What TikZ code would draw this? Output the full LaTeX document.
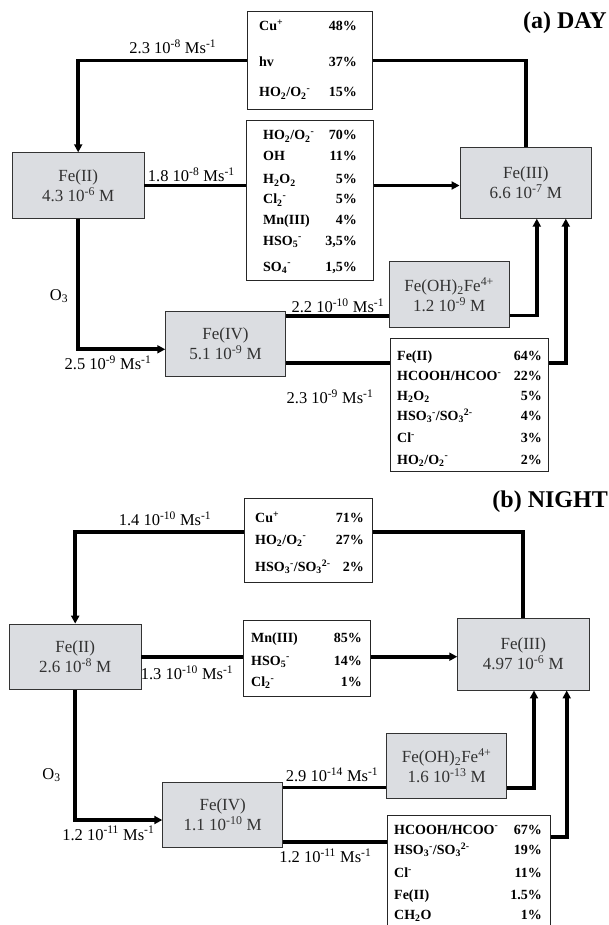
\documentclass[tikz,border=0pt]{standalone}
\usepackage{fontspec}
\setmainfont{Liberation Serif}
\usetikzlibrary{arrows.meta}
\definecolor{boxgray}{RGB}{219,221,225}
\definecolor{boxtext}{RGB}{50,50,50}
\newcommand{\supx}[1]{\textsuperscript{#1}}
\newcommand{\subx}[1]{\textsubscript{#1}}
\tikzset{
  species/.style={draw=black!80, line width=0.8pt, fill=boxgray, text=boxtext,
    font=\fontsize{17}{20}\selectfont, align=center, inner sep=0pt},
  tabbox/.style={draw=black!85, line width=0.8pt, fill=white, inner sep=0pt},
  rowtxt/.style={font=\bfseries\fontsize{14}{15}\selectfont, text height=10pt, text depth=2pt, inner sep=0pt},
  rate/.style={font=\fontsize{16.5}{18}\selectfont, inner sep=0pt},
  flow/.style={line width=3.8pt},
  flowarr/.style={flow, -{Triangle[length=8pt,width=8pt]}},
  paneltitle/.style={font=\bfseries\fontsize{24}{26}\selectfont, inner sep=0pt},
}
\newcommand{\spec}[7]{%
  \node[species, minimum width=#4pt, minimum height=#5pt] (#1) at (#2,#3) {#6\\#7};}
\newcommand{\tbox}[5]{%
  \node[tabbox, minimum width=#4pt, minimum height=#5pt] (#1) at (#2,#3) {};}
\newcommand{\tcols}[2]{\def\tlx{#1}\def\trx{#2}}
\newcommand{\trow}[5]{%
  \node[rowtxt, anchor=west] (#1-l#2) at (\tlx,#3) {#4};
  \node[rowtxt, anchor=east] (#1-p#2) at (\trx,#3) {#5};}

\begin{document}
\begin{tikzpicture}[x=1pt,y=-1pt]
  \useasboundingbox (0,0) rectangle (609,925);
  \clip (0,0) rectangle (609,925);

  % (a) day
  \spec{feIIa}{78.2}{185.5}{131.7}{65.6}{Fe(II)}{4.3 10\supx{-6} M}
  \spec{feIIIa}{525.8}{182.8}{131.7}{71}{Fe(III)}{6.6 10\supx{-7} M}
  \spec{feIVa}{225.5}{343.8}{119.7}{65.7}{Fe(IV)}{5.1 10\supx{-9} M}
  \spec{feoha}{449.2}{294.5}{120.3}{65.6}{Fe(OH)\subx{2}Fe\supx{4+}}{1.2 10\supx{-9} M}
  \tbox{topa}{310}{60.5}{125.4}{97.6}
  \tbox{mida}{309.7}{200.3}{127.3}{159.3}
  \tbox{hca}{469.5}{405}{157.6}{133.4}

  \tcols{259}{357}
  \trow{topa}{1}{27}{Cu\supx{+}}{48\%}
  \trow{topa}{2}{63}{hv}{37\%}
  \trow{topa}{3}{93}{HO\subx{2}/O\subx{2}\supx{-}}{15\%}
  \tcols{263}{357}
  \trow{mida}{1}{136}{HO\subx{2}/O\subx{2}\supx{-}}{70\%}
  \trow{mida}{2}{157}{OH}{11\%}
  \trow{mida}{3}{180}{H\subx{2}O\subx{2}}{5\%}
  \trow{mida}{4}{200}{Cl\subx{2}\supx{-}}{5\%}
  \trow{mida}{5}{221}{Mn(III)}{4\%}
  \trow{mida}{6}{241}{HSO\subx{5}\supx{-}}{3,5\%}
  \trow{mida}{7}{267}{SO\subx{4}\supx{-}}{1,5\%}
  \tcols{397}{542}
  \trow{hca}{1}{356}{Fe(II)}{64\%}
  \trow{hca}{2}{376.7}{HCOOH/HCOO\supx{-}}{22\%}
  \trow{hca}{3}{396.7}{H\subx{2}O\subx{2}}{5\%}
  \trow{hca}{4}{416.7}{HSO\subx{3}\supx{-}/SO\subx{3}\supx{2-}}{4\%}
  \trow{hca}{5}{438.3}{Cl\supx{-}}{3\%}
  \trow{hca}{6}{460}{HO\subx{2}/O\subx{2}\supx{-}}{2\%}

  \draw[flow] (feIIIa.north) |- (topa.east);
  \draw[flowarr] (topa.west) -| (feIIa.north);
  \draw[flow] (feIIa.east) -- (feIIa.east -| mida.west);
  \draw[flowarr] (feIIa.east -| mida.east) -- (feIIa.east -| feIIIa.west);
  \draw[flowarr] (feIIa.south) |- ([yshift=-5.5pt]feIVa.west);
  \coordinate (ohina) at ([yshift=-21.5pt]feoha.west);
  \draw[flow] (feIVa.east |- ohina) -- (ohina);
  \draw[flowarr] ([yshift=-21pt]feoha.east) -| ([xshift=11pt]feIIIa.south);
  \coordinate (hcina) at ([yshift=41.7pt]hca.west);
  \draw[flow] (feIVa.east |- hcina) -- (hcina);
  \draw[flowarr] ([yshift=41.7pt]hca.east) -| ([xshift=40pt]feIIIa.south);

  \node[rate] (r1a) at (172.8,47) {2.3 10\supx{-8} Ms\supx{-1}};
  \node[rate] (r2a) at (191.3,175) {1.8 10\supx{-8} Ms\supx{-1}};
  \node[rate] (r3a) at (108,363) {2.5 10\supx{-9} Ms\supx{-1}};
  \node[rate] (r4a) at (337.8,306) {2.2 10\supx{-10} Ms\supx{-1}};
  \node[rate] (r5a) at (330,397) {2.3 10\supx{-9} Ms\supx{-1}};
  \node[rate] (o3a) at (59,296) {O\subx{3}};
  \node[paneltitle, anchor=east] (daya) at (607,23) {(a) DAY};

  % (b) night
  \spec{feIIb}{75.2}{656.7}{131.7}{65.3}{Fe(II)}{2.6 10\supx{-8} M}
  \spec{feIIIb}{523.3}{654.2}{131.3}{71.7}{Fe(III)}{4.97 10\supx{-6} M}
  \spec{feIVb}{222.7}{815}{120}{65.4}{Fe(IV)}{1.1 10\supx{-10} M}
  \spec{feohb}{446.7}{765.8}{120}{65}{Fe(OH)\subx{2}Fe\supx{4+}}{1.6 10\supx{-13} M}
  \tbox{topb}{308.3}{540.3}{128}{84}
  \tbox{midb}{307}{658}{127.4}{76}
  \tbox{hcb}{469}{875}{163.4}{120}

  \tcols{255}{364}
  \trow{topb}{1}{518.3}{Cu\supx{+}}{71\%}
  \trow{topb}{2}{540}{HO\subx{2}/O\subx{2}\supx{-}}{27\%}
  \trow{topb}{3}{567.3}{HSO\subx{3}\supx{-}/SO\subx{3}\supx{2-}}{2\%}
  \tcols{251}{362}
  \trow{midb}{1}{638.3}{Mn(III)}{85\%}
  \trow{midb}{2}{661}{HSO\subx{5}\supx{-}}{14\%}
  \trow{midb}{3}{682.7}{Cl\subx{2}\supx{-}}{1\%}
  \tcols{394}{542}
  \trow{hcb}{1}{830}{HCOOH/HCOO\supx{-}}{67\%}
  \trow{hcb}{2}{850.7}{HSO\subx{3}\supx{-}/SO\subx{3}\supx{2-}}{19\%}
  \trow{hcb}{3}{873.3}{Cl\supx{-}}{11\%}
  \trow{hcb}{4}{895}{Fe(II)}{1.5\%}
  \trow{hcb}{5}{915}{CH\subx{2}O}{1\%}

  \draw[flow] (feIIIb.north) |- ([yshift=8.6pt]topb.east);
  \draw[flowarr] ([yshift=8.6pt]topb.west) -| (feIIb.north);
  \draw[flow] (feIIb.east) -- (feIIb.east -| midb.west);
  \draw[flowarr] (feIIb.east -| midb.east) -- (feIIb.east -| feIIIb.west);
  \draw[flowarr] (feIIb.south) |- ([yshift=-5pt]feIVb.west);
  \coordinate (ohinb) at ([yshift=-21.7pt]feohb.west);
  \draw[flow] (feIVb.east |- ohinb) -- (ohinb);
  \draw[flowarr] ([yshift=-22.5pt]feohb.east) -| ([xshift=10.7pt]feIIIb.south);
  \coordinate (hcinb) at ([yshift=33.3pt]hcb.west);
  \draw[flow] (feIVb.east |- hcinb) -- (hcinb);
  \draw[flowarr] ([yshift=38pt]hcb.east) -| ([xshift=43.4pt]feIIIb.south);

  \node[rate] (r1b) at (165,519) {1.4 10\supx{-10} Ms\supx{-1}};
  \node[rate] (r2b) at (187,672.7) {1.3 10\supx{-10} Ms\supx{-1}};
  \node[rate] (r3b) at (108.3,833.3) {1.2 10\supx{-11} Ms\supx{-1}};
  \node[rate] (r4b) at (332,775) {2.9 10\supx{-14} Ms\supx{-1}};
  \node[rate] (r5b) at (325.3,856) {1.2 10\supx{-11} Ms\supx{-1}};
  \node[rate] (o3b) at (51.5,775) {O\subx{3}};
  \node[paneltitle, anchor=east] (nightb) at (608,502) {(b) NIGHT};
\end{tikzpicture}
\end{document}
